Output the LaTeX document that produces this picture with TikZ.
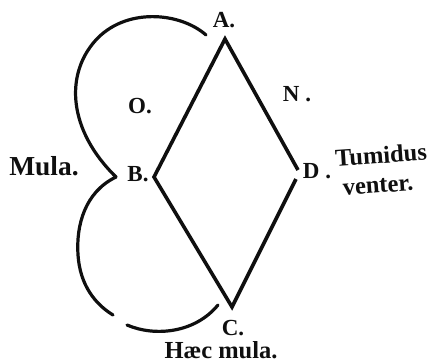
\documentclass[tikz,border=0pt]{standalone}
\usepackage{fontspec}
\setmainfont{Liberation Serif}
\usepackage{xcolor}
\usetikzlibrary{positioning}
\definecolor{inkblack}{RGB}{15,15,15}

\begin{document}
\begin{tikzpicture}[
  x=1pt, y=-1pt, font=\normalfont,
  edge/.style={line width=3.6pt, draw=inkblack},
  arcline/.style={line width=3.2pt, draw=inkblack, line cap=round},
  pt/.style={inner sep=0pt, font=\fontsize{23}{23}\selectfont\bfseries, text=inkblack},
  lbl/.style={inner sep=0pt, font=\fontsize{24.5}{26}\selectfont\bfseries, text=inkblack}]

  \useasboundingbox (0,0) rectangle (431,364);

  % ---------- corners of the lozenge ----------
  \coordinate (a) at (225,39);
  \coordinate (b) at (154,177);
  \coordinate (c) at (232,307);
  \coordinate (d1) at (298,170);
  \coordinate (d2) at (296,179);

  \draw[edge] (d1) -- (a) -- (b) -- (c) -- (d2);

  % ---------- the two bulges ----------
  \coordinate (tipb) at (116,177);
  \coordinate (topend) at (206,35);
  \coordinate (lowend) at (113,315);
  \coordinate (lowstart) at (127,325);
  \coordinate (lowfin) at (218,305);

  \draw[arcline] (topend) .. controls (180,12) and (125,7) .. (95,41)
    .. controls (65,75) and (68,130) .. (tipb);
  \draw[arcline] (tipb) .. controls (85,192) and (76,225) .. (78,255)
    .. controls (80,285) and (95,304) .. (lowend);
  \draw[arcline] (lowstart) .. controls (155,337) and (195,333) .. (lowfin);

  % ---------- letters ----------
  \node[pt] (la) at (224,20) {A.};
  \node[pt] (lo) at (140,106) {O.};
  \node[pt] (ln) at (297,94) {N .};
  \node[pt] (lb) at (138,174) {B.};
  \node[pt] (ld) at (317,171) {D .};
  \node[pt] (lc) at (233,328) {C.};

  \node[lbl, scale=1.12] (mula) at (44,166) {Mula.};
  \node[lbl, rotate=4] (tumidus) at (381,155) {Tumidus};
  \node[lbl, rotate=4] (venter) at (378,186) {venter.};
  \node[lbl] (haec) at (221,350) {Hæc mula.};
\end{tikzpicture}
\end{document}
